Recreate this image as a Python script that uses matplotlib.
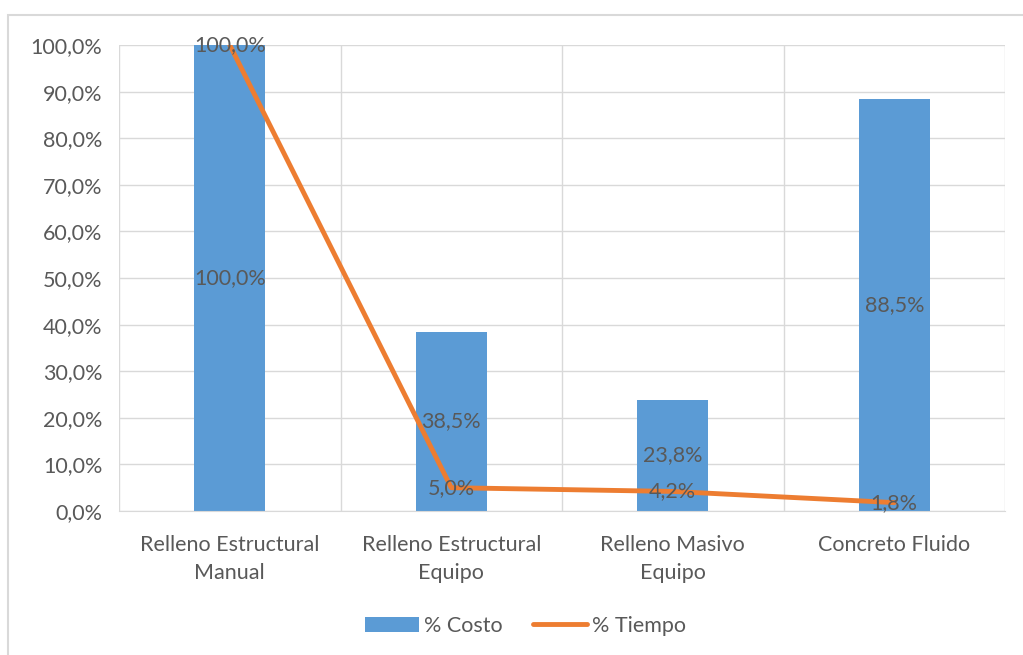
import matplotlib.pyplot as plt
from matplotlib.patches import Rectangle
from matplotlib.ticker import FuncFormatter

categories = ["Relleno Estructural\nManual", "Relleno Estructural\nEquipo",
              "Relleno Masivo\nEquipo", "Concreto Fluido"]
costo = [100.0, 38.5, 23.8, 88.5]
tiempo = [100.0, 5.0, 4.2, 1.8]

plt.rcParams["font.family"] = ["Lato", "DejaVu Sans"]
txt = "#595959"
fs = 15.5

fig = plt.figure(figsize=(10.23, 6.55), dpi=100)
ax = fig.add_axes([119 / 1023, 1 - 511 / 655, 886 / 1023, 466 / 655])

# chart frame
fig.patches.append(Rectangle((8 / 1023, -0.1), 1.2, 1 - 15 / 655 + 0.1,
                             transform=fig.transFigure, fill=False,
                             edgecolor="#D9D9D9", linewidth=1.5))

x = list(range(len(categories)))
bars = ax.bar(x, costo, width=0.32, color="#5B9BD5", label="% Costo", zorder=2)
line, = ax.plot(x, tiempo, color="#ED7D31", linewidth=3.5, label="% Tiempo", zorder=3,
                solid_capstyle="round")

for i, v in enumerate(costo):
    ax.text(i, v / 2, f"{v:.1f}%".replace(".", ","), ha="center", va="center",
            fontsize=fs, color=txt, zorder=4)
for i, v in enumerate(tiempo):
    ax.text(i, v, f"{v:.1f}%".replace(".", ","), ha="center", va="center",
            fontsize=fs, color=txt, zorder=4)

ax.set_xlim(-0.5, 3.5)
ax.set_ylim(0, 100)
ax.set_yticks(range(0, 101, 10))
ax.yaxis.set_major_formatter(FuncFormatter(lambda v, p: f"{v:.1f}%".replace(".", ",")))
ax.set_xticks(x)
ax.set_xticklabels(categories, linespacing=1.5)
ax.set_xticks([-0.5, 0.5, 1.5, 2.5, 3.5], minor=True)
ax.tick_params(axis="both", which="both", length=0, labelsize=fs, colors=txt, pad=12)
ax.tick_params(axis="x", pad=17)
ax.grid(axis="y", color="#D9D9D9", linewidth=1, zorder=0)
ax.grid(axis="x", which="minor", color="#D9D9D9", linewidth=1, zorder=0)
for s in ax.spines.values():
    s.set_visible(False)
ax.spines["bottom"].set_visible(True)
ax.spines["bottom"].set_color("#D9D9D9")

leg = fig.legend([bars, line], ["% Costo", "% Tiempo"], loc="center",
                 bbox_to_anchor=(0.514, 1 - 626 / 655), ncol=2,
                 frameon=False, fontsize=fs, labelcolor=txt, handlelength=2.5,
                 columnspacing=1.4, handletextpad=0.25)

fig.savefig("out.png", dpi=100)
